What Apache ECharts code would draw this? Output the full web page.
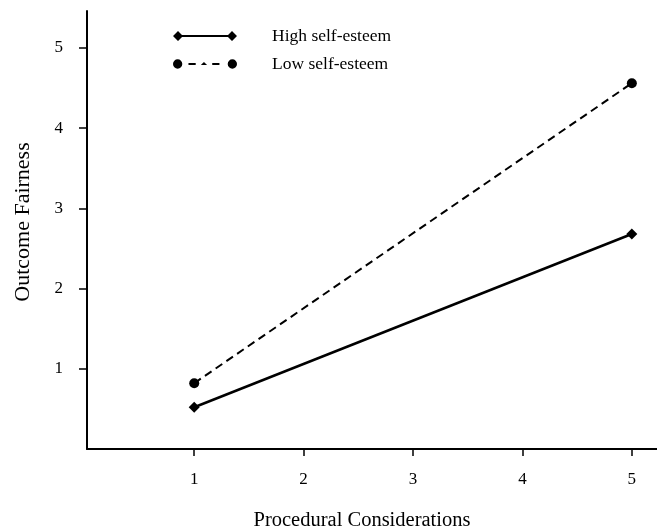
<!DOCTYPE html>
<html>
<head>
<meta charset="utf-8">
<script src="https://cdn.jsdelivr.net/npm/echarts@6/dist/echarts.min.js"></script>
<style>
html,body{margin:0;padding:0;background:#fff;}
#chart{width:657px;height:529px;}
</style>
</head>
<body>
<div id="chart"></div>
<script>
var seriesNames = ['High self-esteem', 'Low self-esteem'];
var xValues = [1, 5];
var highValues = [0.52, 2.68];
var lowValues = [0.82, 4.56];
var xTicks = [1, 2, 3, 4, 5];
var yTicks = [1, 2, 3, 4, 5];

var FONT = '"Liberation Serif", "Times New Roman", serif';

function pairs(xs, ys) {
  return xs.map(function (x, i) { return [x, ys[i]]; });
}

var highIcon = 'path://M0 6L5 1L10 6L5 11ZM5 5L59 5L59 7L5 7ZM54 6L59 1L64 6L59 11Z';
var lowIcon = 'path://M1 6A4.5 4.5 0 1 0 10 6A4.5 4.5 0 1 0 1 6ZM16 5L23 5L23 7L16 7ZM28 7L31 4L34 7ZM39 5L46 5L46 7L39 7ZM54 6A4.5 4.5 0 1 0 63 6A4.5 4.5 0 1 0 54 6Z';

var chart = echarts.init(document.getElementById('chart'));
chart.setOption({
  animation: false,
  backgroundColor: '#fff',
  textStyle: { fontFamily: FONT, color: '#000' },
  grid: { left: 87, right: 0, top: 11, bottom: 80, containLabel: false, outerBoundsMode: 'none' },
  legend: {
    orient: 'vertical',
    left: 168,
    top: 22,
    itemWidth: 64,
    itemHeight: 12,
    itemGap: 10,
    textStyle: { fontFamily: FONT, fontSize: 17.5, color: '#000', padding: [0, 0, 0, 30] },
    data: [
      { name: seriesNames[0], icon: highIcon, itemStyle: { color: '#000' } },
      { name: seriesNames[1], icon: lowIcon, itemStyle: { color: '#000' } }
    ]
  },
  xAxis: {
    type: 'value',
    min: 0.02,
    max: 5.23,
    name: 'Procedural Considerations',
    nameLocation: 'middle',
    nameGap: 61,
    nameTextStyle: { fontFamily: FONT, fontSize: 20.5, color: '#000', padding: [0, 20, 0, 0] },
    axisLine: { show: true, lineStyle: { color: '#000', width: 2 } },
    axisTick: { show: true, length: 7, customValues: xTicks, lineStyle: { color: '#000', width: 1.5 } },
    axisLabel: { customValues: xTicks, margin: 22, fontFamily: FONT, fontSize: 17, color: '#000' },
    splitLine: { show: false }
  },
  yAxis: {
    type: 'value',
    min: 0,
    max: 5.46,
    name: 'Outcome Fairness',
    nameLocation: 'middle',
    nameGap: 53,
    nameTextStyle: { fontFamily: FONT, fontSize: 22, color: '#000', padding: [0, 0, 0, 16] },
    axisLine: { show: true, lineStyle: { color: '#000', width: 2 } },
    axisTick: { show: true, length: 8, customValues: yTicks, lineStyle: { color: '#000', width: 1.5 } },
    axisLabel: { customValues: yTicks, margin: 24, fontFamily: FONT, fontSize: 17, color: '#000' },
    splitLine: { show: false }
  },
  series: [
    {
      name: seriesNames[0],
      type: 'line',
      data: pairs(xValues, highValues),
      symbol: 'diamond',
      symbolSize: 11,
      itemStyle: { color: '#000' },
      lineStyle: { color: '#000', width: 2.5, type: 'solid' }
    },
    {
      name: seriesNames[1],
      type: 'line',
      data: pairs(xValues, lowValues),
      symbol: 'circle',
      symbolSize: 10,
      itemStyle: { color: '#000' },
      lineStyle: { color: '#000', width: 2, type: [8, 5] }
    }
  ]
});
</script>
</body>
</html>
